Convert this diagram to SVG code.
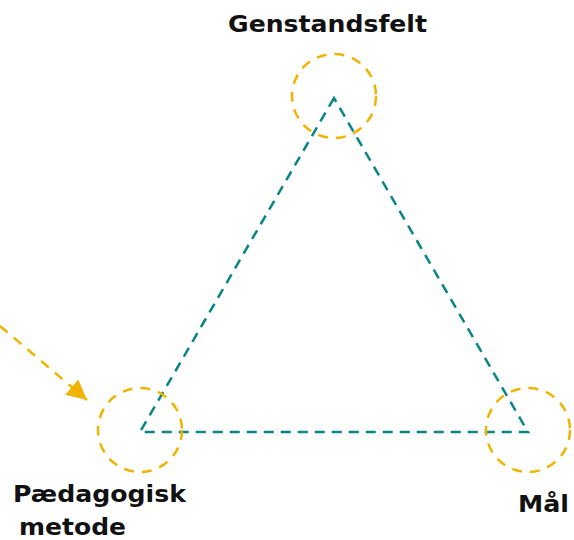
<svg xmlns="http://www.w3.org/2000/svg" width="574" height="540" viewBox="0 0 574 540">
<style>
.ring{fill:none;stroke:#f0b400;stroke-width:2.5;stroke-dasharray:10 8}
.edge{fill:none;stroke:#0a8587;stroke-width:2.5;stroke-dasharray:10 7}
.arrow{fill:none;stroke:#f0b400;stroke-width:2.5;stroke-dasharray:10 8}
.lbl{font-family:"DejaVu Sans","Open Sans",sans-serif;font-weight:bold;font-size:23.5px;fill:#111}
</style>
<defs>
<marker id="ahy" viewBox="0 0 10 10" refX="10" refY="5" markerWidth="22" markerHeight="20" markerUnits="userSpaceOnUse" orient="auto">
<path d="M0,0 L10,5 L0,10 z" fill="#f0b400"/>
</marker>
</defs>
<g id="connectors">
<path class="edge" d="M334,98 L140,432 L528,432 Z"/>
<path class="arrow" d="M0,326 L87,400" marker-end="url(#ahy)"/>
</g>
<g id="node-genstandsfelt">
<circle class="ring" cx="334" cy="96" r="42"/>
<text class="lbl" x="228" y="32" textLength="199" lengthAdjust="spacingAndGlyphs">Genstandsfelt</text>
</g>
<g id="node-paedagogisk">
<circle class="ring" cx="140" cy="430" r="42"/>
<text class="lbl" x="13" y="502" textLength="173" lengthAdjust="spacingAndGlyphs">Pædagogisk</text>
<text class="lbl" x="19" y="535" textLength="107" lengthAdjust="spacingAndGlyphs">metode</text>
</g>
<g id="node-maal">
<circle class="ring" cx="528" cy="430" r="42"/>
<text class="lbl" x="518" y="512" textLength="51" lengthAdjust="spacingAndGlyphs">Mål</text>
</g>
</svg>
